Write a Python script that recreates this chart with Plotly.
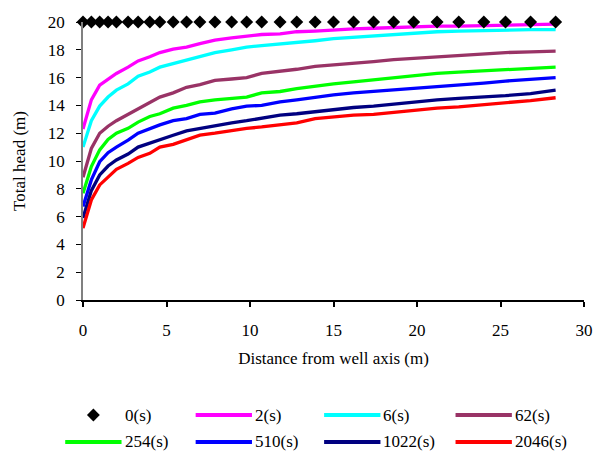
import plotly.graph_objects as go

# ---- data ----
distance = [0, 0.5, 1.0, 1.5, 2.0, 2.7, 3.3, 4.0, 4.6, 5.4, 6.2, 7.0, 7.9, 8.9, 9.8,
            10.7, 11.8, 12.8, 13.9, 15.0, 16.2, 17.4, 18.6, 19.8, 21.2, 22.5, 24.0,
            25.3, 26.8, 28.3]

head_0s = [20.0] * 30
head_2s = [12.3, 14.4, 15.45, 15.9, 16.3, 16.75, 17.2, 17.5, 17.8, 18.05, 18.2, 18.45,
           18.7, 18.85, 19.0, 19.1, 19.15, 19.3, 19.35, 19.45, 19.5, 19.55, 19.6, 19.65,
           19.7, 19.7, 19.75, 19.8, 19.8, 19.85]
head_6s = [11.0, 12.9, 13.95, 14.6, 15.1, 15.55, 16.1, 16.4, 16.75, 17.0, 17.25, 17.5,
           17.8, 18.0, 18.2, 18.3, 18.4, 18.5, 18.65, 18.8, 18.9, 19.0, 19.1, 19.2,
           19.3, 19.35, 19.4, 19.45, 19.45, 19.45]
head_62s = [8.83, 10.9, 12.0, 12.5, 12.9, 13.35, 13.75, 14.2, 14.6, 14.9, 15.3, 15.5,
            15.8, 15.9, 16.0, 16.3, 16.45, 16.6, 16.8, 16.9, 17.05, 17.15, 17.3, 17.4,
            17.5, 17.6, 17.75, 17.8, 17.85, 17.9]
head_254s = [7.68, 9.6, 10.8, 11.55, 12.0, 12.35, 12.8, 13.2, 13.4, 13.8, 14.0, 14.25,
             14.4, 14.5, 14.6, 14.9, 15.0, 15.2, 15.4, 15.55, 15.7, 15.85, 16.0, 16.15,
             16.3, 16.4, 16.5, 16.6, 16.7, 16.75]
head_510s = [6.72, 8.64, 9.95, 10.6, 11.0, 11.5, 12.0, 12.35, 12.6, 12.9, 13.05, 13.35,
             13.45, 13.75, 13.95, 14.0, 14.25, 14.4, 14.6, 14.75, 14.9, 15.0, 15.15, 15.25,
             15.35, 15.45, 15.6, 15.75, 15.9, 16.0]
head_1022s = [5.9, 7.87, 9.0, 9.64, 10.07, 10.5, 11.0, 11.3, 11.55, 11.85, 12.17, 12.35,
              12.58, 12.75, 12.9, 13.1, 13.3, 13.4, 13.55, 13.7, 13.85, 13.95, 14.1, 14.25,
              14.4, 14.5, 14.6, 14.7, 14.85, 15.1]
head_2046s = [5.17, 7.2, 8.28, 8.87, 9.4, 9.83, 10.26, 10.55, 11.0, 11.2, 11.55, 11.86,
              12.0, 12.2, 12.35, 12.45, 12.58, 12.75, 13.05, 13.17, 13.3, 13.35, 13.5,
              13.65, 13.8, 13.9, 14.05, 14.2, 14.35, 14.55]

series_names = ["0(s)", "2(s)", "6(s)", "62(s)", "254(s)", "510(s)", "1022(s)", "2046(s)"]
series_values = [head_0s, head_2s, head_6s, head_62s, head_254s, head_510s, head_1022s, head_2046s]
series_colors = ["#000000", "#FF00FF", "#00FFFF", "#993366", "#00FF00", "#0000FF", "#000080", "#FF0000"]

x_title = "Distance from well axis (m)"
y_title = "Total head (m)"

FONT = "Liberation Serif"

fig = go.Figure()

# line series first, diamonds on top
for name, vals, col in zip(series_names[1:], series_values[1:], series_colors[1:]):
    fig.add_trace(go.Scatter(x=distance, y=vals, mode="lines", name=name,
                             line=dict(color=col, width=3.3), showlegend=False,
                             cliponaxis=False))
fig.add_trace(go.Scatter(x=distance, y=series_values[0], mode="markers", name=series_names[0],
                         marker=dict(symbol="diamond", size=10, color=series_colors[0]),
                         showlegend=False, cliponaxis=False))

# ---- custom legend (paper coordinates) ----
L, R, T, B = 83, 15, 21.5, 151.5
W, H = 605, 452
pw, ph = W - L - R, H - T - B

def px2x(px):
    return (px - L) / pw

def py2y(py):
    return (H - B - py) / ph

col_starts = [65, 197, 327, 460]
row_ys = [416, 443]
line_len = 57
shapes = []
annotations = []
for i, (name, col) in enumerate(zip(series_names, series_colors)):
    r, c = divmod(i, 4)
    x0 = col_starts[c]
    yc = row_ys[r]
    yy = py2y(yc)
    if i == 0:
        cx = x0 + line_len / 2
        d = 6.5
        path = "M {} {} L {} {} L {} {} L {} {} Z".format(
            px2x(cx - d), py2y(yc), px2x(cx), py2y(yc - d),
            px2x(cx + d), py2y(yc), px2x(cx), py2y(yc + d))
        shapes.append(dict(type="path", xref="paper", yref="paper", path=path,
                           fillcolor=col, line=dict(color=col, width=0)))
    else:
        shapes.append(dict(type="line", xref="paper", yref="paper",
                           x0=px2x(x0), x1=px2x(x0 + line_len), y0=yy, y1=yy,
                           line=dict(color=col, width=4)))
    annotations.append(dict(text=name, xref="paper", yref="paper",
                            x=px2x(x0 + line_len + 1), y=yy, xanchor="left", yanchor="middle",
                            showarrow=False, font=dict(family=FONT, size=17, color="black")))

fig.update_layout(
    width=W, height=H,
    margin=dict(l=L, r=R, t=T, b=B),
    paper_bgcolor="white", plot_bgcolor="white",
    font=dict(family=FONT, size=17, color="black"),
    showlegend=False,
    shapes=shapes,
    annotations=annotations,
    xaxis=dict(range=[0, 30], dtick=5, showgrid=False, zeroline=False,
               showline=True, linecolor="black", linewidth=1.5,
               ticks="outside", ticklen=5, tickcolor="black", tickwidth=1.5,
               ticklabelstandoff=9,
               tickfont=dict(family=FONT, size=17),
               title=dict(text=x_title, font=dict(family=FONT, size=17), standoff=13)),
    yaxis=dict(range=[0, 20], dtick=2, showgrid=False, zeroline=False,
               showline=True, linecolor="#808080", linewidth=1.5,
               ticks="outside", ticklen=5, tickcolor="black", tickwidth=1,
               ticklabelstandoff=8,
               tickfont=dict(family=FONT, size=17),
               title=dict(text=y_title, font=dict(family=FONT, size=17), standoff=18)),
)

fig.write_html("out.html")
